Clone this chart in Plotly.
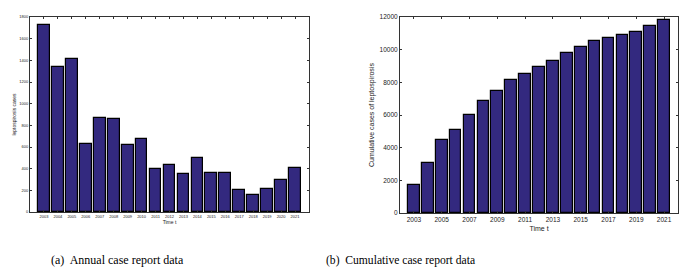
import plotly.graph_objects as go

years = list(range(2003, 2022))
annual_cases = [1730, 1340, 1410, 626, 866, 863, 623, 675, 395, 438, 354, 498,
                358, 358, 200, 157, 215, 298, 403]
cumulative_cases = [1735, 3082, 4490, 5102, 5980, 6857, 7469, 8143, 8531, 8959,
                    9306, 9822, 10190, 10530, 10740, 10920, 11100, 11430, 11800]
left_yticks = list(range(0, 1801, 200))
right_yticks = list(range(0, 12001, 2000))
right_xticks = list(range(2003, 2022, 2))
captions = ["(a)  Annual case report data", "(b)  Cumulative case report data"]

BAR = "#33297f"
W, H = 691, 279

fig = go.Figure()
fig.add_trace(go.Bar(x=years, y=annual_cases, width=0.84, marker=dict(color=BAR, line=dict(color="black", width=1.2)),
                     xaxis="x", yaxis="y", showlegend=False))
fig.add_trace(go.Bar(x=years, y=cumulative_cases, width=0.84, marker=dict(color=BAR, line=dict(color="black", width=1.2)),
                     xaxis="x2", yaxis="y2", showlegend=False))

font = "Liberation Sans, Arial, sans-serif"
axcommon = dict(showline=True, mirror="ticks", linecolor="#333", linewidth=1, ticks="inside",
                ticklen=2, tickcolor="#333", showgrid=False, zeroline=False, automargin=False,
                tickformat="d")

fig.update_layout(
    width=W, height=H, margin=dict(l=0, r=0, t=0, b=0),
    paper_bgcolor="white", plot_bgcolor="white", bargap=0,
    xaxis=dict(domain=[30/W, 309/W], range=[2002, 2022], tickvals=years,
               tickfont=dict(size=4, family=font, color="#222"),
               title=dict(text="Time t", font=dict(size=5, family=font, color="#222"), standoff=0),
               anchor="y", **axcommon),
    yaxis=dict(domain=[1-212/H, 1-17/H], range=[0, 1800], tickvals=left_yticks,
               tickfont=dict(size=4, family=font, color="#222"),
               title=dict(text="leptospirosis cases", font=dict(size=5, family=font, color="#222"), standoff=2),
               anchor="x", **axcommon),
    xaxis2=dict(domain=[400/W, 678/W], range=[2002, 2022], tickvals=right_xticks,
                tickfont=dict(size=6.5, family=font, color="#222"),
                title=dict(text="Time t", font=dict(size=7, family=font, color="#222"), standoff=4),
                anchor="y2", **axcommon),
    yaxis2=dict(domain=[1-213/H, 1-17/H], range=[0, 12000], tickvals=right_yticks,
                tickfont=dict(size=6.5, family=font, color="#222"),
                title=dict(text="Cumulative cases of leptospirosis", font=dict(size=7, family=font, color="#222"), standoff=4),
                anchor="x2", **axcommon),
    annotations=[
        dict(text=captions[0], x=117/W, y=1-260/H, xref="paper", yref="paper", showarrow=False,
             xanchor="center", yanchor="middle",
             font=dict(size=12, family="Liberation Serif, Times New Roman, serif", color="black")),
        dict(text=captions[1], x=400/W, y=1-260/H, xref="paper", yref="paper", showarrow=False,
             xanchor="center", yanchor="middle",
             font=dict(size=11.6, family="Liberation Serif, Times New Roman, serif", color="black")),
    ],
)

fig.write_html("out.html", config={"displayModeBar": False},
               post_script="document.body.style.margin='0';")
